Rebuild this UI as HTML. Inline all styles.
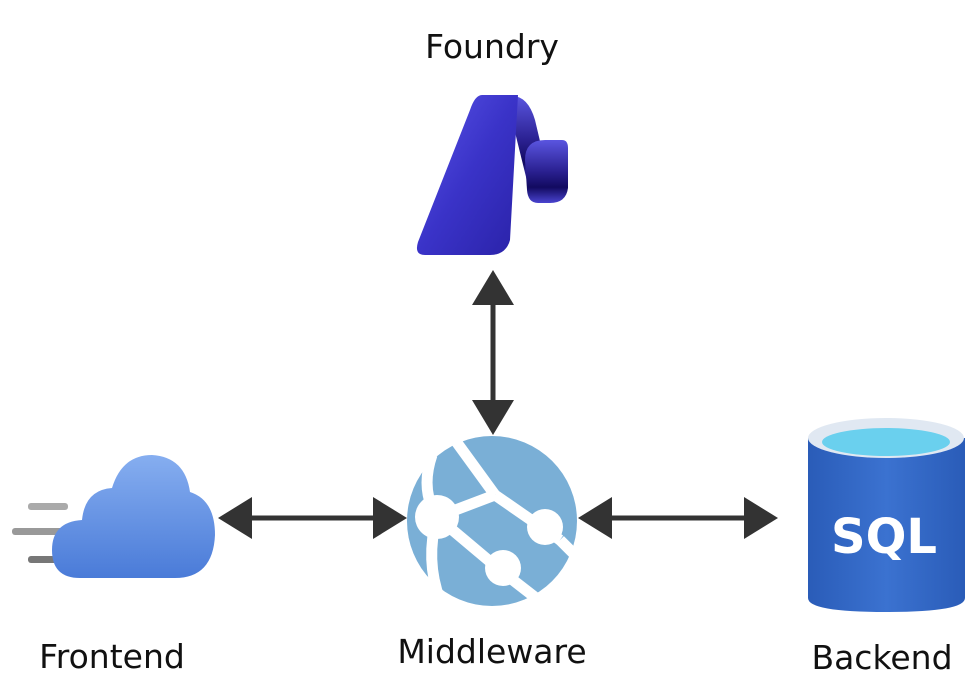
<!DOCTYPE html>
<html><head><meta charset="utf-8"><style>
html,body{margin:0;padding:0;background:#fff;}
svg{display:block}
text{font-family:"DejaVu Sans","Liberation Sans",sans-serif;fill:#111;}
</style></head><body>
<svg width="977" height="696" viewBox="0 0 977 696">
<defs>
<linearGradient id="fg" x1="0" y1="0" x2="1" y2="1">
<stop offset="0" stop-color="#5a55e8"/><stop offset="0.5" stop-color="#3a33c8"/><stop offset="1" stop-color="#2a22a8"/></linearGradient>
<linearGradient id="fg2" x1="0" y1="0" x2="0" y2="1">
<stop offset="0" stop-color="#5a55e0"/><stop offset="0.5" stop-color="#2a2090"/><stop offset="0.75" stop-color="#120a60"/><stop offset="1" stop-color="#4a44d0"/></linearGradient>
<linearGradient id="cl" x1="0" y1="0" x2="0" y2="1"><stop offset="0" stop-color="#86aef0"/><stop offset="1" stop-color="#4a7bd8"/></linearGradient>
<linearGradient id="sq" x1="0" y1="0" x2="1" y2="0"><stop offset="0" stop-color="#2a5cb8"/><stop offset="0.5" stop-color="#3b72d0"/><stop offset="1" stop-color="#2a5cb8"/></linearGradient>
</defs>
<text x="492" y="58" font-size="33" text-anchor="middle">Foundry</text>
<!-- foundry logo -->
<path d="M512 96 Q528 96 535 120 L548 175 L528 185 L512 120 Z" fill="url(#fg2)"/>
<path d="M525 160 Q525 140 545 140 L562 140 Q568 140 568 148 L568 188 Q566 203 550 203 L538 203 Q528 203 527 190 Z" fill="url(#fg2)"/>
<path d="M482 95 L518 95 L510 240 Q506 255 490 255 L425 255 Q414 255 418 242 L470 110 Q475 95 482 95 Z" fill="url(#fg)"/>
<!-- vertical arrow -->
<line x1="493" y1="300" x2="493" y2="405" stroke="#333" stroke-width="5"/>
<polygon points="493,270 472,305 514,305" fill="#333"/>
<polygon points="493,435 472,400 514,400" fill="#333"/>
<!-- left arrow -->
<line x1="245" y1="518" x2="380" y2="518" stroke="#333" stroke-width="5"/>
<polygon points="218,518 252,497 252,539" fill="#333"/>
<polygon points="407,518 373,497 373,539" fill="#333"/>
<!-- right arrow -->
<line x1="605" y1="518" x2="750" y2="518" stroke="#333" stroke-width="5"/>
<polygon points="578,518 612,497 612,539" fill="#333"/>
<polygon points="778,518 744,497 744,539" fill="#333"/>
<!-- cloud -->
<rect x="28" y="503" width="40" height="7" rx="3" fill="#aaa"/>
<rect x="12" y="528" width="56" height="7" rx="3" fill="#999"/>
<rect x="28" y="556" width="40" height="7" rx="3" fill="#777"/>
<path d="M80 578 Q52 578 52 550 Q52 522 82 520 Q85 490 112 488 Q122 455 152 455 Q185 457 190 492 Q215 500 215 535 Q213 578 175 578 Z" fill="url(#cl)"/>
<!-- globe -->
<circle cx="492" cy="521" r="85" fill="#7aafd6"/>
<g stroke="#fff" stroke-width="11" fill="none">
<path d="M455 440 L495 495"/>
<path d="M495 495 L560 540"/>
<path d="M437 517 L495 495"/>
<path d="M437 517 L500 570"/>
<path d="M437 517 Q420 490 432 455"/>
<path d="M437 517 Q425 560 440 600"/>
<path d="M500 570 L545 605"/>
<path d="M560 540 L580 560"/>
</g>
<circle cx="437" cy="517" r="22" fill="#fff"/>
<circle cx="545" cy="527" r="18" fill="#fff"/>
<circle cx="503" cy="568" r="18" fill="#fff"/>
<!-- SQL -->
<path d="M808 438 L808 598 Q808 612 886 612 Q965 612 965 598 L965 438 Z" fill="url(#sq)"/>
<ellipse cx="886" cy="438" rx="78" ry="20" fill="#e0e8f2"/>
<ellipse cx="886" cy="442" rx="64" ry="14" fill="#6ad0ee"/>
<text x="884" y="553" font-size="48" font-weight="bold" text-anchor="middle" style="fill:#fff">SQL</text>
<text x="112" y="668" font-size="33" text-anchor="middle">Frontend</text>
<text x="492" y="663" font-size="33" text-anchor="middle">Middleware</text>
<text x="882" y="669" font-size="33" text-anchor="middle">Backend</text>
</svg>
</body></html>
